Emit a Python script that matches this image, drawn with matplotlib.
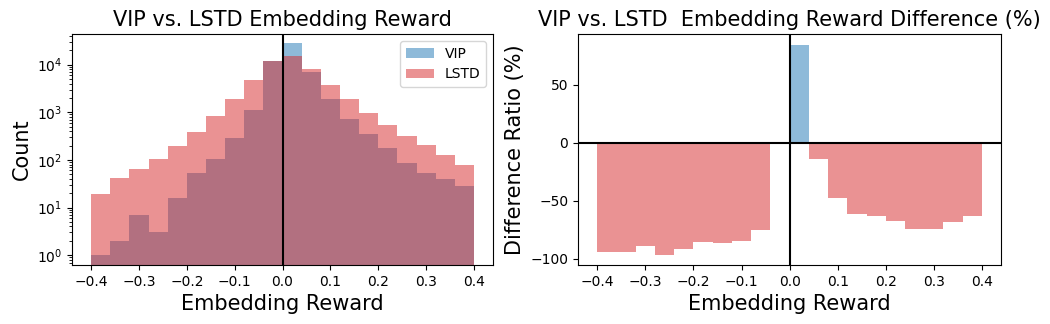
import numpy as np
import matplotlib.pyplot as plt
from matplotlib.ticker import MultipleLocator

edges = np.round(np.arange(-0.4, 0.4001, 0.04), 2)

# counts per bin
vip_counts = [1, 2, 7, 3, 16, 53, 104, 289, 1130, 11700,
              28200, 6860, 1930, 730, 351, 178, 86, 53, 39, 28]
lstd_counts = [19, 41, 64, 104, 196, 387, 845, 1930, 4650, 11700,
               14960, 7940, 3825, 1930, 980, 545, 319, 206, 126, 78]

# difference ratio (%) per bin
diff_ratio = [-94.5, -94.5, -88.8, -96.3, -91.4, -85.9, -86.8, -84.5, -75.0, -1.0,
              84.5, -14.4, -48.0, -61.0, -63.5, -67.8, -73.9, -73.9, -68.7, -63.5]

fig = plt.figure(figsize=(10.5, 3.24), dpi=100)
ax1 = fig.add_axes([0.0686, 0.182, 0.401, 0.713])
ax2 = fig.add_axes([0.5505, 0.182, 0.403, 0.713])

w = 0.04
ax1.bar(edges[:-1], vip_counts, width=w, align='edge', color='tab:blue', alpha=0.5, label='VIP')
ax1.bar(edges[:-1], lstd_counts, width=w, align='edge', color='tab:red', alpha=0.5, label='LSTD')
ax1.set_yscale('log')
ax1.set_ylim(0.62, 4.4e4)
ax1.set_xlim(-0.44, 0.44)
ax1.axvline(0, color='black')
ax1.set_xticks(np.round(np.arange(-0.4, 0.41, 0.1), 1))
ax1.set_xlabel('Embedding Reward', fontsize=15)
ax1.set_ylabel('Count', fontsize=15)
ax1.set_title('VIP vs. LSTD Embedding Reward', fontsize=15)
ax1.legend(loc='upper right')

ratio = np.array(diff_ratio)
cols = ['tab:blue' if r > 0 else 'tab:red' for r in ratio]
ax2.bar(edges[:-1], ratio, width=w, align='edge', color=cols, alpha=0.5)
ax2.axhline(0, color='black')
ax2.axvline(0, color='black')
ax2.set_xlim(-0.44, 0.44)
ax2.yaxis.set_major_locator(MultipleLocator(50))
ax2.set_xticks(np.round(np.arange(-0.4, 0.41, 0.1), 1))
ax2.set_xlabel('Embedding Reward', fontsize=15)
ax2.set_ylabel('Difference Ratio (%)', fontsize=15)
ax2.set_title('VIP vs. LSTD  Embedding Reward Difference (%)', fontsize=15)

fig.savefig('out.png')
